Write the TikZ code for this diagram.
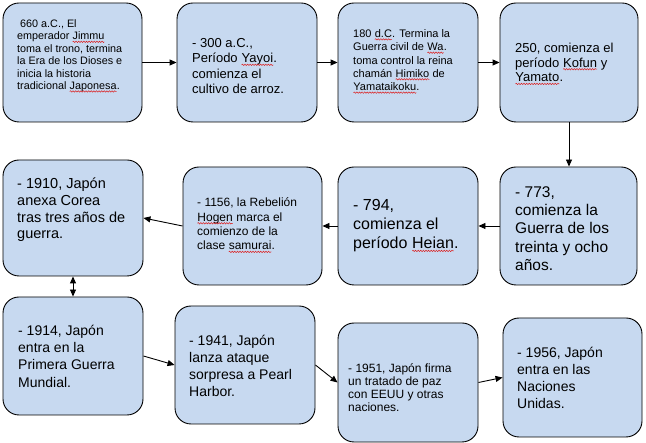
\documentclass[tikz,border=0pt]{standalone}
\usepackage{fontspec}
\setmainfont{Liberation Sans}
\usetikzlibrary{arrows.meta,decorations.pathmorphing}
\definecolor{boxfill}{RGB}{199,217,240}
\definecolor{squigred}{RGB}{220,30,30}
\newcommand\sq[1]{\tikz[baseline=(sqw.base)]{\node[inner sep=0pt,outer sep=0pt](sqw){#1};\draw[squigred,line width=0.5pt,decorate,decoration={snake,amplitude=0.7pt,segment length=2.6pt}]([yshift=-2pt]sqw.base west)--([yshift=-2pt]sqw.base east);}}
\newcommand\fs[2]{\fontsize{#1}{#2}\selectfont}
\tikzset{
  boxst/.style={draw=black, fill=boxfill, rounded corners=16pt, line width=0.9pt, inner sep=0pt},
  txt/.style={anchor=west, align=left, inner sep=0pt, text=black},
  conn/.style={line width=0.9pt, -{Triangle[length=7pt,width=6pt]}},
  dconn/.style={line width=0.9pt, {Triangle[length=7pt,width=6pt]}-{Triangle[length=7pt,width=6pt]}}
}
\begin{document}
\begin{tikzpicture}[x=1pt,y=-1pt]
\useasboundingbox (0,0) rectangle (646,443);
\fill[white] (0,0) rectangle (646,443);
% boxes
\node[boxst, minimum width=139pt, minimum height=119pt] (b1) at (72.5,62.5) {};
\node[boxst, minimum width=140pt, minimum height=119pt] (b2) at (247,62.5) {};
\node[boxst, minimum width=140pt, minimum height=119pt] (b3) at (408,62.5) {};
\node[boxst, minimum width=138pt, minimum height=119pt] (b4) at (569,62.5) {};
\node[boxst, minimum width=137pt, minimum height=118pt] (b5) at (568.5,226) {};
\node[boxst, minimum width=140pt, minimum height=118pt] (b6) at (408,226) {};
\node[boxst, minimum width=139pt, minimum height=118pt] (b7) at (252.5,226) {};
\node[boxst, minimum width=140pt, minimum height=116pt] (b8) at (73,218) {};
\node[boxst, minimum width=140pt, minimum height=118pt] (b9) at (73,356) {};
\node[boxst, minimum width=140pt, minimum height=118pt] (b10) at (245,365) {};
\node[boxst, minimum width=140pt, minimum height=119pt] (b11) at (408,382.5) {};
\node[boxst, minimum width=139pt, minimum height=119pt] (b12) at (572.5,377.5) {};
% texts
\node[txt, font=\fs{10.8}{12.4}] (t1) at (17,56) {\hspace*{3pt}660 a.C., El\\emperador \sq{Jimmu}\\toma el trono, termina\\la Era de los Dioses e\\inicia la historia\\tradicional \sq{Japonesa}.};
\node[txt, font=\fs{13}{15.3}] (t2) at (192,66) {- 300 a.C.,\\Período \sq{Yayoi}.\\comienza el\\cultivo de arroz.};
\node[txt, font=\fs{11}{13.3}] (t3) at (353,61.5) {180 \sq{d.C}. Termina la\\Guerra civil de \sq{Wa}.\\toma control la reina\\chamán \sq{Himiko} de\\\sq{Yamataikoku}.};
\node[txt, font=\fs{13}{14.7}] (t4) at (515,64) {250, comienza el\\período \sq{Kofun} y\\\sq{Yamato}.};
\node[txt, font=\fs{15.5}{18.3}] (t5) at (515,228.5) {- 773,\\comienza la\\Guerra de los\\treinta y ocho\\años.};
\node[txt, font=\fs{16}{19}] (t6) at (353,226) {- 794,\\comienza el\\período \sq{Heian}.};
\node[txt, font=\fs{12}{14.3}] (t7) at (197,225.5) {- 1156, la Rebelión\\\sq{Hogen} marca el\\comienzo de la\\clase \sq{samurai}.};
\node[txt, font=\fs{14.5}{16.7}] (t8) at (17,210) {- 1910, Japón\\anexa Corea\\tras tres años de\\guerra.};
\node[txt, font=\fs{14}{17.3}] (t9) at (18,356) {- 1914, Japón\\entra en la\\Primera Guerra\\Mundial.};
\node[txt, font=\fs{14}{17}] (t10) at (189,366) {- 1941, Japón\\lanza ataque\\sorpresa a Pearl\\Harbor.};
\node[txt, font=\fs{12}{13}] (t11) at (348,387.5) {- 1951, Japón firma\\un tratado de paz\\con EEUU y otras\\naciones.};
\node[txt, font=\fs{14}{17}] (t12) at (517,378) {- 1956, Japón\\entra en las\\Naciones\\Unidas.};
% connectors
\draw[conn] (b1.east) -- (b2.west);
\draw[conn] (b2.east) -- (b3.west);
\draw[conn] (b3.east) -- (b4.west);
\draw[conn] (b4.south) -- (b4.south |- b5.north);
\draw[conn] (b5.west) -- (b6.east);
\draw[conn] (b6.west) -- (b7.east);
\draw[conn] (b7.west) -- (b8.east);
\draw[dconn] (b8.south) -- (b9.north);
\draw[conn] (b9.east) -- (b10.west);
\draw[conn] (b10.east) -- (b11.west);
\draw[conn] (b11.east) -- (b12.west);
\end{tikzpicture}
\end{document}
